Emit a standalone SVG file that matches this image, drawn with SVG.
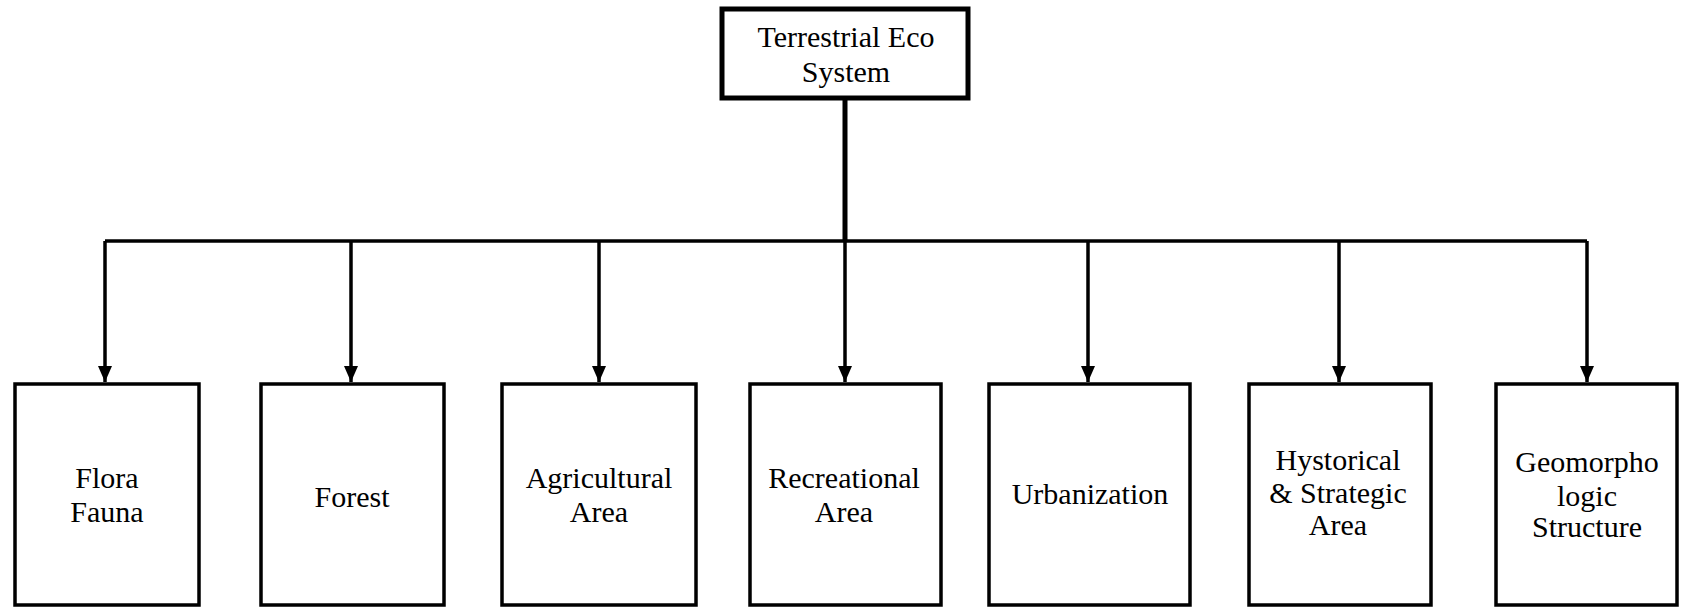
<svg xmlns="http://www.w3.org/2000/svg" width="1686" height="612" viewBox="0 0 1686 612">
  <style>
    .box { fill: #ffffff; stroke: #000000; stroke-width: 3.5; }
    .root { fill: #ffffff; stroke: #000000; stroke-width: 5; }
    .label { font-family: "Liberation Serif", "Times New Roman", serif; font-size: 30px; fill: #000000; text-anchor: middle; }
    .wire { fill: none; stroke: #000000; stroke-width: 3.5; }
    .trunk { fill: none; stroke: #000000; stroke-width: 5; }
  </style>
  <defs>
    <marker id="arrow" markerUnits="userSpaceOnUse" markerWidth="18" markerHeight="14" refX="16" refY="7" orient="auto">
      <path d="M0,0 L16,7 L0,14 Z" fill="#000000"/>
    </marker>
  </defs>
  <rect width="1686" height="612" fill="#ffffff"/>

  <!-- connectors: trunk, bus and drops to each category -->
  <g id="connectors">
    <line class="trunk" x1="845" y1="100" x2="845" y2="242"/>
    <line class="wire" x1="105" y1="241" x2="1587" y2="241"/>
    <line class="wire" x1="105" y1="241" x2="105" y2="382" marker-end="url(#arrow)"/>
    <line class="wire" x1="351" y1="241" x2="351" y2="382" marker-end="url(#arrow)"/>
    <line class="wire" x1="599" y1="241" x2="599" y2="382" marker-end="url(#arrow)"/>
    <line class="wire" x1="845" y1="241" x2="845" y2="382" marker-end="url(#arrow)"/>
    <line class="wire" x1="1088" y1="241" x2="1088" y2="382" marker-end="url(#arrow)"/>
    <line class="wire" x1="1339" y1="241" x2="1339" y2="382" marker-end="url(#arrow)"/>
    <line class="wire" x1="1587" y1="241" x2="1587" y2="382" marker-end="url(#arrow)"/>
  </g>

  <g id="terrestrial-eco-system">
    <rect class="root" x="722" y="9" width="246" height="89"/>
    <text class="label" x="846" y="47">Terrestrial Eco</text>
    <text class="label" x="846" y="82">System</text>
  </g>

  <g id="flora-fauna">
    <rect class="box" x="15" y="384" width="184" height="221"/>
    <text class="label" x="107" y="488">Flora</text>
    <text class="label" x="107" y="522">Fauna</text>
  </g>

  <g id="forest">
    <rect class="box" x="261" y="384" width="183" height="221"/>
    <text class="label" x="352" y="507">Forest</text>
  </g>

  <g id="agricultural-area">
    <rect class="box" x="502" y="384" width="194" height="221"/>
    <text class="label" x="599" y="488">Agricultural</text>
    <text class="label" x="599" y="522">Area</text>
  </g>

  <g id="recreational-area">
    <rect class="box" x="750" y="384" width="191" height="221"/>
    <text class="label" x="844" y="488">Recreational</text>
    <text class="label" x="844" y="522">Area</text>
  </g>

  <g id="urbanization">
    <rect class="box" x="989" y="384" width="201" height="221"/>
    <text class="label" x="1090" y="504">Urbanization</text>
  </g>

  <g id="historical-strategic-area">
    <rect class="box" x="1249" y="384" width="182" height="221"/>
    <text class="label" x="1338" y="470">Hystorical</text>
    <text class="label" x="1338" y="503">&amp; Strategic</text>
    <text class="label" x="1338" y="535">Area</text>
  </g>

  <g id="geomorphologic-structure">
    <rect class="box" x="1496" y="384" width="181" height="221"/>
    <text class="label" x="1587" y="472">Geomorpho</text>
    <text class="label" x="1587" y="506">logic</text>
    <text class="label" x="1587" y="537">Structure</text>
  </g>
</svg>
